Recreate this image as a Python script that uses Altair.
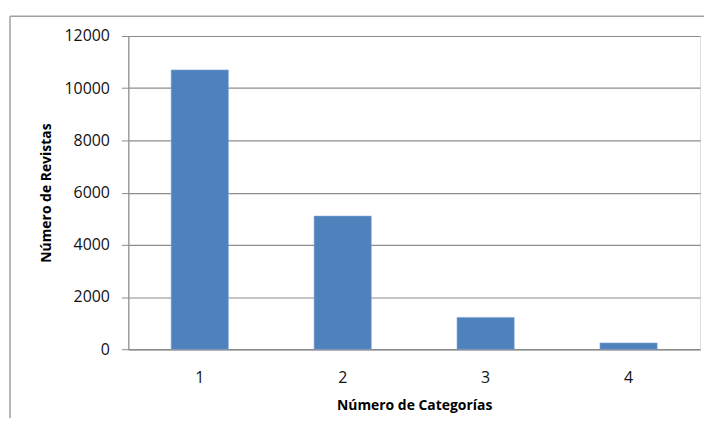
import altair as alt
import pandas as pd

categorias = ["1", "2", "3", "4"]
revistas = [10700, 5100, 1220, 240]
y_ticks = [0, 2000, 4000, 6000, 8000, 10000, 12000]

df = pd.DataFrame({"cat": categorias, "val": revistas})

FONT = "Open Sans"
GRAY = "#8c8c8c"

bars = alt.Chart(df).mark_bar(color="#4f81bd", stroke="#7fa3d3", strokeWidth=0.6).encode(
    x=alt.X(
        "cat:N",
        sort=categorias,
        scale=alt.Scale(paddingInner=0.6, paddingOuter=0.3),
        axis=alt.Axis(
            title="Número de Categorías",
            labelAngle=0,
            ticks=False,
            labelPadding=20,
            labelFontSize=16,
            labelFont=FONT,
            labelColor="#111111",
            titleFont=FONT,
            titleFontSize=14,
            titleFontWeight="bold",
            titleColor="#000000",
            titleY=57,
            titleBaseline="middle",
            domainColor=GRAY,
            domainWidth=1.5,
            grid=False,
        ),
    ),
    y=alt.Y(
        "val:Q",
        scale=alt.Scale(domain=[0, 12000], nice=False),
        axis=alt.Axis(
            title="Número de Revistas",
            values=y_ticks,
            format="d",
            tickSize=7,
            tickColor=GRAY,
            labelPadding=12,
            labelFontSize=16,
            labelFont=FONT,
            labelColor="#111111",
            titleFont=FONT,
            titleFontSize=14,
            titleFontWeight="bold",
            titleColor="#000000",
            titleX=-82,
            titleBaseline="middle",
            domainColor=GRAY,
            domainWidth=1.2,
            gridColor=GRAY,
            gridWidth=1.2,
        ),
    ),
)

frame_df = pd.DataFrame({"k": [0]})
frame_top = alt.Chart(frame_df).mark_rule(color="#a0a0a0", strokeWidth=1.5).encode(
    x=alt.value(-119), x2=alt.value(600), y=alt.value(-20)
)
frame_left = alt.Chart(frame_df).mark_rule(color="#a0a0a0", strokeWidth=1.5).encode(
    x=alt.value(-119), y=alt.value(-20), y2=alt.value(420)
)

chart = alt.layer(frame_top, frame_left, bars).properties(
    width=575,
    height=315,
    padding={"left": 121, "top": 27, "right": 4, "bottom": 68},
    autosize=alt.AutoSizeParams(type="none"),
).configure_view(stroke=None).configure(background="white")

chart.save("out.html", embed_options={"renderer": "svg", "actions": False})
